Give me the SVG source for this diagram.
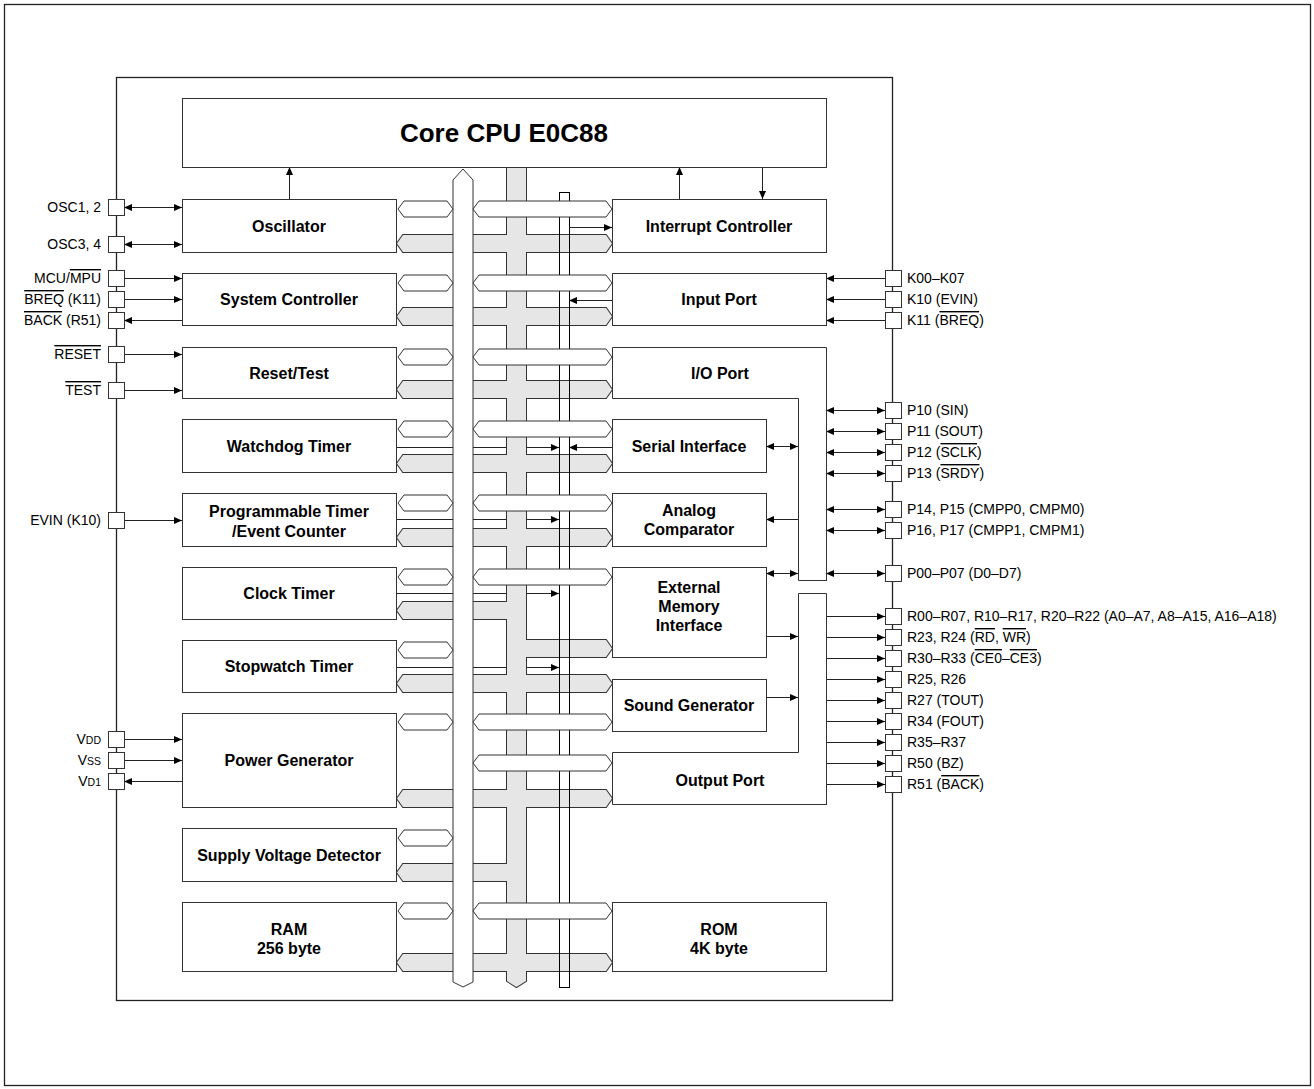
<svg xmlns="http://www.w3.org/2000/svg" xmlns:xlink="http://www.w3.org/1999/xlink" width="1314" height="1089" viewBox="0 0 1314 1089">
<style>
.frame{fill:none;stroke:#222;stroke-width:1.3}
.box{fill:#fff;stroke:#333;stroke-width:1}
.sh{fill:#000}
.lbl{font-family:"Liberation Sans",Arial,sans-serif;font-weight:bold;font-size:16px;text-anchor:middle;fill:#000}
.pin{font-family:"Liberation Sans",Arial,sans-serif;font-size:14px;fill:#000}
.pl{text-anchor:end}
.sig{stroke:#222;stroke-width:1;fill:none}
.pbox{fill:#fff;stroke:#333;stroke-width:1}
.wh{fill:#fff;stroke:#333;stroke-width:1}
.ov{text-decoration:overline}
.sub{font-size:10.5px}
</style>
<defs>
<marker id="ah" viewBox="0 0 8 7" refX="8" refY="3.5" markerWidth="8" markerHeight="7" markerUnits="userSpaceOnUse" orient="auto-start-reverse"><path d="M0,0L8,3.5L0,7z" fill="#000"/></marker>
<g id="greyShapes">
<polygon points="507,167 526,167 526,981 516.5,987 507,981"/>
<polygon points="397,243.5 403,235 606,235 612,243.5 606,252 403,252"/>
<polygon points="397,316.5 403,308 606,308 612,316.5 606,325 403,325"/>
<polygon points="397,389.5 403,381 606,381 612,389.5 606,398 403,398"/>
<polygon points="397,463.5 403,455 606,455 612,463.5 606,472 403,472"/>
<polygon points="397,537.5 403,529 606,529 612,537.5 606,546 403,546"/>
<polygon points="397,610.5 403,602 517,602 517,619 403,619"/>
<polygon points="516,640 606,640 612,648.5 606,657 516,657"/>
<polygon points="397,683.5 403,675 606,675 612,683.5 606,692 403,692"/>
<polygon points="397,798.5 403,790 606,790 612,798.5 606,807 403,807"/>
<polygon points="397,872.5 403,864 517,864 517,881 403,881"/>
<polygon points="397,962.5 403,954 606,954 612,962.5 606,971 403,971"/>
</g>
</defs>
<rect x="0" y="0" width="1314" height="1089" fill="#fff"/>
<rect class="frame" x="4.5" y="4.5" width="1306" height="1081"/>
<rect class="frame" x="116.5" y="77.5" width="776" height="923"/>

<g id="connectors">
<!-- control lines under buses -->
<line class="sig" x1="396" y1="447.5" x2="559" y2="447.5" marker-end="url(#ah)"/>
<line class="sig" x1="396" y1="519.5" x2="559" y2="519.5" marker-end="url(#ah)"/>
<line class="sig" x1="396" y1="593.5" x2="559" y2="593.5" marker-end="url(#ah)"/>
<line class="sig" x1="396" y1="667.5" x2="559" y2="667.5" marker-end="url(#ah)"/>
</g>

<g id="buses">
<use xlink:href="#greyShapes" fill="#e6e6e6" stroke="#333" stroke-width="2"/>
<use xlink:href="#greyShapes" fill="#e6e6e6" stroke="none"/>
<rect x="559.5" y="192.5" width="10" height="795" fill="none" stroke="#000" stroke-width="1"/>
<polygon class="wh" points="453,180 463,169 473,180 473,982 463,987 453,982" stroke="#555"/>
<polygon class="wh" points="398,209 404,201 447,201 453,209 447,217 404,217"/>
<polygon class="wh" points="473,209 479,201 606,201 612,209 606,217 479,217"/>
<polygon class="wh" points="398,283 404,275 447,275 453,283 447,291 404,291"/>
<polygon class="wh" points="473,283 479,275 606,275 612,283 606,291 479,291"/>
<polygon class="wh" points="398,357 404,349 447,349 453,357 447,365 404,365"/>
<polygon class="wh" points="473,357 479,349 606,349 612,357 606,365 479,365"/>
<polygon class="wh" points="398,429 404,421 447,421 453,429 447,437 404,437"/>
<polygon class="wh" points="473,429 479,421 606,421 612,429 606,437 479,437"/>
<polygon class="wh" points="398,503 404,495 447,495 453,503 447,511 404,511"/>
<polygon class="wh" points="473,503 479,495 606,495 612,503 606,511 479,511"/>
<polygon class="wh" points="398,577 404,569 447,569 453,577 447,585 404,585"/>
<polygon class="wh" points="473,577 479,569 606,569 612,577 606,585 479,585"/>
<polygon class="wh" points="398,650 404,642 447,642 453,650 447,658 404,658"/>
<polygon class="wh" points="398,722 404,714 447,714 453,722 447,730 404,730"/>
<polygon class="wh" points="473,722 479,714 606,714 612,722 606,730 479,730"/>
<polygon class="wh" points="473,763 479,755 606,755 612,763 606,771 479,771"/>
<polygon class="wh" points="398,838 404,830 447,830 453,838 447,846 404,846"/>
<polygon class="wh" points="398,911 404,903 447,903 453,911 447,919 404,919"/>
<polygon class="wh" points="473,911 479,903 606,903 612,911 606,919 479,919"/>
</g>

<g id="connectors2">
<line class="sig" x1="569" y1="227.5" x2="612" y2="227.5" marker-end="url(#ah)"/>
<line class="sig" x1="612" y1="300.5" x2="569" y2="300.5" marker-end="url(#ah)"/>
<line class="sig" x1="612" y1="447.5" x2="569" y2="447.5" marker-end="url(#ah)"/>
<line class="sig" x1="289.5" y1="199" x2="289.5" y2="167" marker-end="url(#ah)"/>
<line class="sig" x1="679.5" y1="199" x2="679.5" y2="167" marker-end="url(#ah)"/>
<line class="sig" x1="762.5" y1="167" x2="762.5" y2="199" marker-end="url(#ah)"/>
<line class="sig" x1="766" y1="446.5" x2="798" y2="446.5" marker-start="url(#ah)" marker-end="url(#ah)"/>
<line class="sig" x1="798" y1="519.5" x2="766" y2="519.5" marker-end="url(#ah)"/>
<line class="sig" x1="766" y1="573.5" x2="798" y2="573.5" marker-start="url(#ah)" marker-end="url(#ah)"/>
<line class="sig" x1="766" y1="636.5" x2="798" y2="636.5" marker-end="url(#ah)"/>
<line class="sig" x1="766" y1="697.5" x2="798" y2="697.5" marker-end="url(#ah)"/>
<!-- left pins -->
<line class="sig" x1="124" y1="207.5" x2="182" y2="207.5" marker-start="url(#ah)" marker-end="url(#ah)"/>
<line class="sig" x1="124" y1="244.5" x2="182" y2="244.5" marker-start="url(#ah)" marker-end="url(#ah)"/>
<line class="sig" x1="124" y1="278.5" x2="182" y2="278.5" marker-end="url(#ah)"/>
<line class="sig" x1="124" y1="299.5" x2="182" y2="299.5" marker-end="url(#ah)"/>
<line class="sig" x1="182" y1="320.5" x2="124" y2="320.5" marker-end="url(#ah)"/>
<line class="sig" x1="124" y1="354.5" x2="182" y2="354.5" marker-end="url(#ah)"/>
<line class="sig" x1="124" y1="390.5" x2="182" y2="390.5" marker-end="url(#ah)"/>
<line class="sig" x1="124" y1="520.5" x2="182" y2="520.5" marker-end="url(#ah)"/>
<line class="sig" x1="124" y1="739.5" x2="182" y2="739.5" marker-end="url(#ah)"/>
<line class="sig" x1="124" y1="760.5" x2="182" y2="760.5" marker-end="url(#ah)"/>
<line class="sig" x1="182" y1="781.5" x2="124" y2="781.5" marker-end="url(#ah)"/>
<!-- right pins -->
<line class="sig" x1="885" y1="278.5" x2="826" y2="278.5" marker-end="url(#ah)"/>
<line class="sig" x1="885" y1="299.5" x2="826" y2="299.5" marker-end="url(#ah)"/>
<line class="sig" x1="885" y1="320.5" x2="826" y2="320.5" marker-end="url(#ah)"/>
<line class="sig" x1="826" y1="410.5" x2="885" y2="410.5" marker-start="url(#ah)" marker-end="url(#ah)"/>
<line class="sig" x1="826" y1="431.5" x2="885" y2="431.5" marker-start="url(#ah)" marker-end="url(#ah)"/>
<line class="sig" x1="826" y1="452.5" x2="885" y2="452.5" marker-start="url(#ah)" marker-end="url(#ah)"/>
<line class="sig" x1="826" y1="473.5" x2="885" y2="473.5" marker-start="url(#ah)" marker-end="url(#ah)"/>
<line class="sig" x1="826" y1="509.5" x2="885" y2="509.5" marker-start="url(#ah)" marker-end="url(#ah)"/>
<line class="sig" x1="826" y1="530.5" x2="885" y2="530.5" marker-start="url(#ah)" marker-end="url(#ah)"/>
<line class="sig" x1="826" y1="573.5" x2="885" y2="573.5" marker-start="url(#ah)" marker-end="url(#ah)"/>
<line class="sig" x1="826" y1="616.5" x2="885" y2="616.5" marker-end="url(#ah)"/>
<line class="sig" x1="826" y1="637.5" x2="885" y2="637.5" marker-end="url(#ah)"/>
<line class="sig" x1="826" y1="658.5" x2="885" y2="658.5" marker-end="url(#ah)"/>
<line class="sig" x1="826" y1="679.5" x2="885" y2="679.5" marker-end="url(#ah)"/>
<line class="sig" x1="826" y1="700.5" x2="885" y2="700.5" marker-end="url(#ah)"/>
<line class="sig" x1="826" y1="721.5" x2="885" y2="721.5" marker-end="url(#ah)"/>
<line class="sig" x1="826" y1="742.5" x2="885" y2="742.5" marker-end="url(#ah)"/>
<line class="sig" x1="826" y1="763.5" x2="885" y2="763.5" marker-end="url(#ah)"/>
<line class="sig" x1="826" y1="784.5" x2="885" y2="784.5" marker-end="url(#ah)"/>
</g>

<g id="core-cpu"><rect class="sh" x="183" y="99" width="644" height="69"/><rect class="box" x="182.5" y="98.5" width="644" height="69"/><text class="lbl" x="504" y="142" style="font-size:26px">Core CPU E0C88</text></g>
<g id="oscillator"><rect class="sh" x="183" y="200" width="214" height="53"/><rect class="box" x="182.5" y="199.5" width="214" height="53"/><text class="lbl" x="289" y="232">Oscillator</text></g>
<g id="system-controller"><rect class="sh" x="183" y="274" width="214" height="52"/><rect class="box" x="182.5" y="273.5" width="214" height="52"/><text class="lbl" x="289" y="305">System Controller</text></g>
<g id="reset-test"><rect class="sh" x="183" y="348" width="214" height="51"/><rect class="box" x="182.5" y="347.5" width="214" height="51"/><text class="lbl" x="289" y="379">Reset/Test</text></g>
<g id="watchdog-timer"><rect class="sh" x="183" y="420" width="214" height="53"/><rect class="box" x="182.5" y="419.5" width="214" height="53"/><text class="lbl" x="289" y="452">Watchdog Timer</text></g>
<g id="programmable-timer"><rect class="sh" x="183" y="494" width="214" height="53"/><rect class="box" x="182.5" y="493.5" width="214" height="53"/><text class="lbl" x="289" y="517">Programmable Timer</text><text class="lbl" x="289" y="537">/Event Counter</text></g>
<g id="clock-timer"><rect class="sh" x="183" y="568" width="214" height="52"/><rect class="box" x="182.5" y="567.5" width="214" height="52"/><text class="lbl" x="289" y="599">Clock Timer</text></g>
<g id="stopwatch-timer"><rect class="sh" x="183" y="641" width="214" height="52"/><rect class="box" x="182.5" y="640.5" width="214" height="52"/><text class="lbl" x="289" y="672">Stopwatch Timer</text></g>
<g id="power-generator"><rect class="sh" x="183" y="714" width="214" height="94"/><rect class="box" x="182.5" y="713.5" width="214" height="94"/><text class="lbl" x="289" y="766">Power Generator</text></g>
<g id="supply-voltage-detector"><rect class="sh" x="183" y="829" width="214" height="53"/><rect class="box" x="182.5" y="828.5" width="214" height="53"/><text class="lbl" x="289" y="861">Supply Voltage Detector</text></g>
<g id="ram"><rect class="sh" x="183" y="903" width="214" height="69"/><rect class="box" x="182.5" y="902.5" width="214" height="69"/><text class="lbl" x="289" y="935">RAM</text><text class="lbl" x="289" y="954">256 byte</text></g>
<g id="interrupt-controller"><rect class="sh" x="613" y="200" width="214" height="53"/><rect class="box" x="612.5" y="199.5" width="214" height="53"/><text class="lbl" x="719" y="232">Interrupt Controller</text></g>
<g id="input-port"><rect class="sh" x="613" y="274" width="214" height="52"/><rect class="box" x="612.5" y="273.5" width="214" height="52"/><text class="lbl" x="719" y="305">Input Port</text></g>
<g id="io-port"><polygon class="sh" points="613,348 827,348 827,581 799,581 799,399 613,399"/><polygon class="box" points="612.5,347.5 826.5,347.5 826.5,580.5 798.5,580.5 798.5,398.5 612.5,398.5"/><text class="lbl" x="720" y="379">I/O Port</text></g>
<g id="serial-interface"><rect class="sh" x="613" y="420" width="154" height="53"/><rect class="box" x="612.5" y="419.5" width="154" height="53"/><text class="lbl" x="689" y="452">Serial Interface</text></g>
<g id="analog-comparator"><rect class="sh" x="613" y="494" width="154" height="53"/><rect class="box" x="612.5" y="493.5" width="154" height="53"/><text class="lbl" x="689" y="516">Analog</text><text class="lbl" x="689" y="535">Comparator</text></g>
<g id="external-memory-interface"><rect class="sh" x="613" y="568" width="154" height="90"/><rect class="box" x="612.5" y="567.5" width="154" height="90"/><text class="lbl" x="689" y="593">External</text><text class="lbl" x="689" y="612">Memory</text><text class="lbl" x="689" y="631">Interface</text></g>
<g id="sound-generator"><rect class="sh" x="613" y="680" width="154" height="52"/><rect class="box" x="612.5" y="679.5" width="154" height="52"/><text class="lbl" x="689" y="711">Sound Generator</text></g>
<g id="output-port"><polygon class="sh" points="799,594 827,594 827,805 613,805 613,753 799,753"/><polygon class="box" points="798.5,593.5 826.5,593.5 826.5,804.5 612.5,804.5 612.5,752.5 798.5,752.5"/><text class="lbl" x="720" y="786">Output Port</text></g>
<g id="rom"><rect class="sh" x="613" y="903" width="214" height="69"/><rect class="box" x="612.5" y="902.5" width="214" height="69"/><text class="lbl" x="719" y="935">ROM</text><text class="lbl" x="719" y="954">4K byte</text></g>

<g id="left-pins">
<rect class="pbox" x="108.5" y="199.5" width="16" height="16"/><text class="pin pl" x="101" y="212">OSC1, 2</text>
<rect class="pbox" x="108.5" y="236.5" width="16" height="16"/><text class="pin pl" x="101" y="249">OSC3, 4</text>
<rect class="pbox" x="108.5" y="270.5" width="16" height="16"/><text class="pin pl" x="101" y="283">MCU/<tspan class="ov">MPU</tspan></text>
<rect class="pbox" x="108.5" y="291.5" width="16" height="16"/><text class="pin pl" x="101" y="304"><tspan class="ov">BREQ</tspan> (K11)</text>
<rect class="pbox" x="108.5" y="312.5" width="16" height="16"/><text class="pin pl" x="101" y="325"><tspan class="ov">BACK</tspan> (R51)</text>
<rect class="pbox" x="108.5" y="346.5" width="16" height="16"/><text class="pin pl" x="101" y="359"><tspan class="ov">RESET</tspan></text>
<rect class="pbox" x="108.5" y="382.5" width="16" height="16"/><text class="pin pl" x="101" y="395"><tspan class="ov">TEST</tspan></text>
<rect class="pbox" x="108.5" y="512.5" width="16" height="16"/><text class="pin pl" x="101" y="525">EVIN (K10)</text>
<rect class="pbox" x="108.5" y="731.5" width="16" height="16"/><text class="pin pl" x="101" y="744">V<tspan class="sub">DD</tspan></text>
<rect class="pbox" x="108.5" y="752.5" width="16" height="16"/><text class="pin pl" x="101" y="765">V<tspan class="sub">SS</tspan></text>
<rect class="pbox" x="108.5" y="773.5" width="16" height="16"/><text class="pin pl" x="101" y="786">V<tspan class="sub">D1</tspan></text>
</g>

<g id="right-pins">
<rect class="pbox" x="885.5" y="270.5" width="16" height="16"/><text class="pin" x="907" y="283">K00–K07</text>
<rect class="pbox" x="885.5" y="291.5" width="16" height="16"/><text class="pin" x="907" y="304">K10 (EVIN)</text>
<rect class="pbox" x="885.5" y="312.5" width="16" height="16"/><text class="pin" x="907" y="325">K11 (<tspan class="ov">BREQ</tspan>)</text>
<rect class="pbox" x="885.5" y="402.5" width="16" height="16"/><text class="pin" x="907" y="415">P10 (SIN)</text>
<rect class="pbox" x="885.5" y="423.5" width="16" height="16"/><text class="pin" x="907" y="436">P11 (SOUT)</text>
<rect class="pbox" x="885.5" y="444.5" width="16" height="16"/><text class="pin" x="907" y="457">P12 (<tspan class="ov">SCLK</tspan>)</text>
<rect class="pbox" x="885.5" y="465.5" width="16" height="16"/><text class="pin" x="907" y="478">P13 (<tspan class="ov">SRDY</tspan>)</text>
<rect class="pbox" x="885.5" y="501.5" width="16" height="16"/><text class="pin" x="907" y="514">P14, P15 (CMPP0, CMPM0)</text>
<rect class="pbox" x="885.5" y="522.5" width="16" height="16"/><text class="pin" x="907" y="535">P16, P17 (CMPP1, CMPM1)</text>
<rect class="pbox" x="885.5" y="565.5" width="16" height="16"/><text class="pin" x="907" y="578">P00–P07 (D0–D7)</text>
<rect class="pbox" x="885.5" y="608.5" width="16" height="16"/><text class="pin" x="907" y="621">R00–R07, R10–R17, R20–R22 (A0–A7, A8–A15, A16–A18)</text>
<rect class="pbox" x="885.5" y="629.5" width="16" height="16"/><text class="pin" x="907" y="642">R23, R24 (<tspan class="ov">RD</tspan>, <tspan class="ov">WR</tspan>)</text>
<rect class="pbox" x="885.5" y="650.5" width="16" height="16"/><text class="pin" x="907" y="663">R30–R33 (<tspan class="ov">CE0</tspan>–<tspan class="ov">CE3</tspan>)</text>
<rect class="pbox" x="885.5" y="671.5" width="16" height="16"/><text class="pin" x="907" y="684">R25, R26</text>
<rect class="pbox" x="885.5" y="692.5" width="16" height="16"/><text class="pin" x="907" y="705">R27 (TOUT)</text>
<rect class="pbox" x="885.5" y="713.5" width="16" height="16"/><text class="pin" x="907" y="726">R34 (FOUT)</text>
<rect class="pbox" x="885.5" y="734.5" width="16" height="16"/><text class="pin" x="907" y="747">R35–R37</text>
<rect class="pbox" x="885.5" y="755.5" width="16" height="16"/><text class="pin" x="907" y="768">R50 (BZ)</text>
<rect class="pbox" x="885.5" y="776.5" width="16" height="16"/><text class="pin" x="907" y="789">R51 (<tspan class="ov">BACK</tspan>)</text>
</g>
</svg>
